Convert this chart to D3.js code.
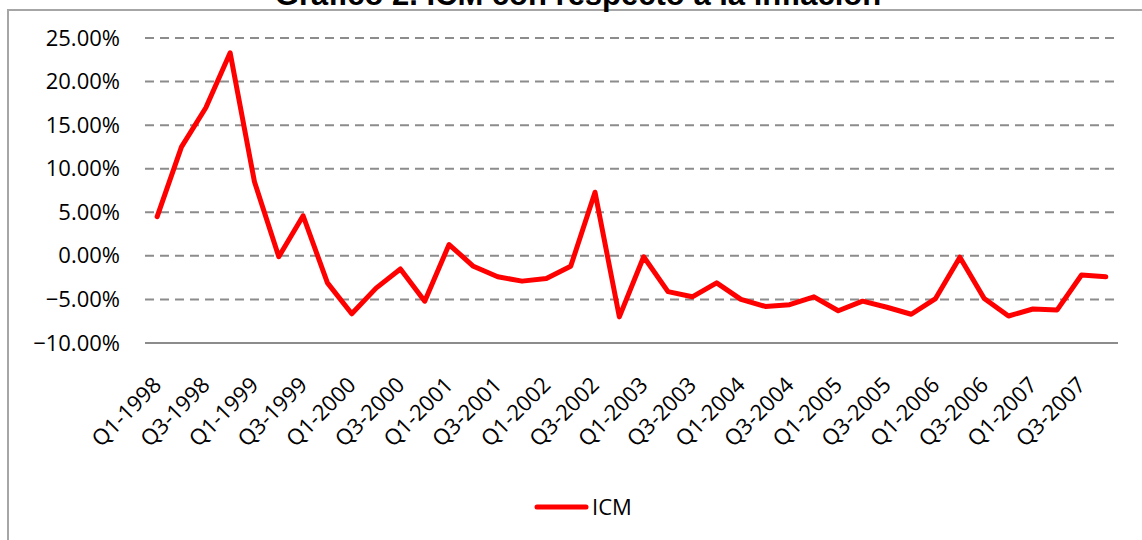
<!DOCTYPE html>
<html>
<head>
<meta charset="utf-8">
<script src="https://cdn.jsdelivr.net/npm/d3@7"></script>
<style>
  html, body { margin: 0; padding: 0; background: #fff; }
  svg { display: block; }
</style>
</head>
<body>
<svg id="chart" width="1142" height="540"></svg>
<script>
const title = "Gráfico 2. ICM con respecto a la inflación";
const seriesName = "ICM";
const years = ["1998","1999","2000","2001","2002","2003","2004","2005","2006","2007"];
const quarters = ["Q1","Q2","Q3","Q4"];
const categories = years.flatMap(y => quarters.map(q => q + "-" + y));
const icmValues = [
  4.5, 12.5, 17.0, 23.3,
  8.5, -0.1, 4.6, -3.1,
  -6.65, -3.7, -1.5, -5.2,
  1.3, -1.2, -2.4, -2.9,
  -2.6, -1.2, 7.3, -7.0,
  -0.1, -4.1, -4.7, -3.1,
  -5.0, -5.8, -5.6, -4.7,
  -6.3, -5.2, -5.9, -6.7,
  -4.9, -0.15, -4.9, -6.9,
  -6.1, -6.2, -2.2, -2.4
];
const yTicks = [-10, -5, 0, 5, 10, 15, 20, 25];

const svg = d3.select("#chart");
const plot = { left: 145, right: 1118, top: 38, bottom: 343 };

const x = d3.scaleBand().domain(categories).range([plot.left, plot.right]);
const y = d3.scaleLinear().domain([-10, 25]).range([plot.bottom, plot.top]);

// chart border
svg.append("rect")
  .attr("x", 8).attr("y", 10)
  .attr("width", 1150).attr("height", 560)
  .attr("fill", "none").attr("stroke", "#a6a6a6").attr("stroke-width", 2);

// title (partially cut off at top, as in the reference)
svg.append("text")
  .attr("x", 578).attr("y", 5)
  .attr("text-anchor", "middle")
  .attr("font-family", "Liberation Sans, Arial, sans-serif")
  .attr("font-weight", "bold")
  .attr("font-size", 31)
  .attr("fill", "#000")
  .text(title);

// gridlines
svg.append("g")
  .selectAll("line")
  .data(yTicks.filter(t => t !== -10))
  .join("line")
  .attr("x1", plot.left).attr("x2", plot.right)
  .attr("y1", d => y(d)).attr("y2", d => y(d))
  .attr("stroke", "#8c8c8c").attr("stroke-width", 2)
  .attr("stroke-dasharray", "9,6");

// y axis labels
const yAxis = d3.axisLeft(y).tickValues(yTicks)
  .tickFormat(d => d3.format(".2f")(d) + "%")
  .tickSize(0).tickPadding(25);
const yg = svg.append("g").attr("transform", `translate(${plot.left},0)`).call(yAxis);
yg.select(".domain").remove();
yg.selectAll("text")
  .attr("font-family", "Open Sans, sans-serif")
  .attr("font-size", 22)
  .attr("fill", "#000");

// x axis line
svg.append("line")
  .attr("x1", plot.left).attr("x2", plot.right)
  .attr("y1", y(-10)).attr("y2", y(-10))
  .attr("stroke", "#8c8c8c").attr("stroke-width", 2);

// x labels (every second category)
const xAxis = d3.axisBottom(x)
  .tickValues(categories.filter((d, i) => i % 2 === 0))
  .tickSize(0).tickPadding(0);
const xg = svg.append("g").attr("transform", `translate(0,${plot.bottom})`).call(xAxis);
xg.select(".domain").remove();
xg.selectAll("text")
  .attr("font-family", "Open Sans, sans-serif")
  .attr("font-size", 22)
  .attr("fill", "#000")
  .attr("text-anchor", "end")
  .attr("dy", "0.35em")
  .attr("transform", "translate(0,38) rotate(-45)")
  .attr("y", 0);

// line
const line = d3.line()
  .x((d, i) => x(categories[i]) + x.bandwidth() / 2)
  .y(d => y(d))
  .curve(d3.curveLinear);
svg.append("path")
  .datum(icmValues)
  .attr("d", line)
  .attr("fill", "none")
  .attr("stroke", "#ff0000")
  .attr("stroke-width", 5)
  .attr("stroke-linejoin", "round")
  .attr("stroke-linecap", "round");

// legend
const lg = svg.append("g");
lg.append("line")
  .attr("x1", 537).attr("x2", 586)
  .attr("y1", 507).attr("y2", 507)
  .attr("stroke", "#ff0000").attr("stroke-width", 5)
  .attr("stroke-linecap", "round");
lg.append("text")
  .attr("x", 592).attr("y", 507)
  .attr("dy", "0.35em")
  .attr("font-family", "Open Sans, sans-serif")
  .attr("font-size", 22)
  .attr("fill", "#000")
  .text(seriesName);
</script>
</body>
</html>
